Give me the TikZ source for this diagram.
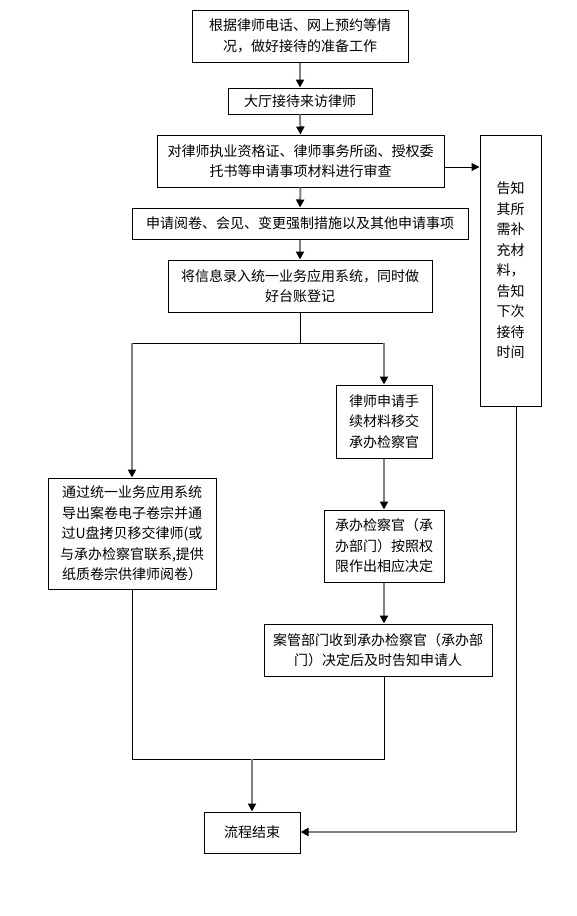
\documentclass[tikz,border=0pt]{standalone}
\usepackage{fontspec}
\setmainfont{Noto Sans CJK SC}
\usetikzlibrary{arrows.meta,calc}
\begin{document}
\begin{tikzpicture}[x=1pt,y=-1pt,
  box/.style={draw=black,line width=1pt,rectangle,align=center,inner sep=0pt,
    font=\fontsize{14}{20.5}\selectfont},
  garrow/.style={draw={rgb,255:red,128;green,128;blue,128},line width=2pt,
    -{Triangle[length=8pt,width=8pt,color=black]}},
  barrow/.style={draw=black,line width=1pt,
    -{Triangle[length=8pt,width=8pt,color=black]}},
  bline/.style={draw=black,line width=1pt},
  gline/.style={draw={rgb,255:red,128;green,128;blue,128},line width=2pt}]
\useasboundingbox (0,0) rectangle (576,916);
\fill[white] (0,0) rectangle (576,916);

\node[box,minimum width=216pt,minimum height=52pt] (b1) at (300,36)
  {根据律师电话、网上预约等情\\况，做好接待的准备工作};
\node[box,minimum width=144pt,minimum height=26pt] (b2) at (300,101)
  {大厅接待来访律师};
\node[box,minimum width=287pt,minimum height=52pt] (b3) at (300.5,161)
  {对律师执业资格证、律师事务所函、授权委\\托书等申请事项材料进行审查};
\node[box,minimum width=336pt,minimum height=31pt] (b4) at (300,223.5)
  {申请阅卷、会见、变更强制措施以及其他申请事项};
\node[box,minimum width=264pt,minimum height=52pt] (b5) at (300,286)
  {将信息录入统一业务应用系统，同时做\\好台账登记};
\node[box,minimum width=61pt,minimum height=271pt] (r) at (510.5,270.5)
  {告知\\其所\\需补\\充材\\料，\\告知\\下次\\接待\\时间};
\node[box,minimum width=96pt,minimum height=73pt] (b7) at (384,421.5)
  {律师申请手\\续材料移交\\承办检察官};
\node[box,minimum width=168pt,minimum height=111pt] (b6) at (132,533.5)
  {通过统一业务应用系统\\导出案卷电子卷宗并通\\过U盘拷贝移交律师(或\\与承办检察官联系,提供\\纸质卷宗供律师阅卷）};
\node[box,minimum width=120pt,minimum height=72pt] (b8) at (384,546)
  {承办检察官（承\\办部门）按照权\\限作出相应决定};
\node[box,minimum width=228pt,minimum height=52pt] (b9) at (378,650)
  {案管部门收到承办检察官（承办部\\门）决定后及时告知申请人};
\node[box,minimum width=96pt,minimum height=41pt] (b10) at (252,832.5)
  {流程结束};

\coordinate (s0) at (300,343);
\coordinate (sl) at (132,343);
\coordinate (sr) at (384,343);
\coordinate (a3) at (444,167);
\coordinate (j0) at (132,759);
\coordinate (jr) at (384,759);
\coordinate (jm) at (252,759);
\coordinate (rb) at (516,406);
\coordinate (rc) at (516,832);

\draw[garrow] (b1.south) -- (b2.north);
\draw[garrow] (b2.south) -- (b3.north);
\draw[garrow] (b3.south) -- (b4.north);
\draw[garrow] (b4.south) -- (b5.north);
\draw[barrow] (a3) -- (a3 -| r.west);
\draw[bline] (b5.south) -- (s0);
\draw[bline] (sl) -- (sr);
\draw[garrow] (sl) -- (b6.north);
\draw[garrow] (sr) -- (b7.north);
\draw[garrow] (b7.south) -- (b8.north);
\draw[garrow] (b8.south) -- (b8.south |- b9.north);
\draw[bline] (b6.south) -- (j0) -- (jr) -- (jr |- b9.south);
\draw[garrow] (jm) -- (b10.north);
\draw[bline] (rb) -- (rc);
\draw[garrow] (rc) -- (rc -| b10.east);
\end{tikzpicture}
\end{document}
